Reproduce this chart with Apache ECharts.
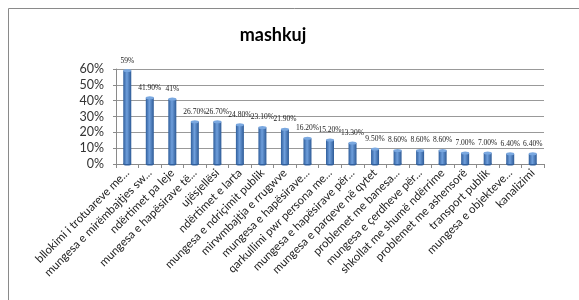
<!DOCTYPE html>
<html lang="sq">
<head>
    <meta charset="UTF-8">
    <title>mashkuj</title>
    <script src="https://cdn.jsdelivr.net/npm/echarts@6/dist/echarts.min.js"></script>
    <style>
        html, body { margin: 0; padding: 0; background: #fff; }
        #main { width: 579px; height: 300px; }
    </style>
</head>
<body>
<div id="main"></div>
<script>
    // te dhenat
    var categories = [
        'bllokimi i trotuareve me...',
        'mungesa e mirëmbajtjes sw...',
        'ndërtimet pa leje',
        'mungesa e hapësirave të...',
        'ujësjellësi',
        'ndërtimet e larta',
        'mungesa e ndriçimit publik',
        'mirwmbajtja e rrugwve',
        'mungesa e hapësirave...',
        'qarkullimi pwr persona me...',
        'mungesa e hapësirave për...',
        'mungesa e parqeve në qytet',
        'problemet me banesa...',
        'mungesa e çerdheve për...',
        'shkollat me shumë ndërrime',
        'problemet me ashensorë',
        'transport publik',
        'mungesa e objekteve...',
        'kanalizimi'
    ];
    var values = [59, 41.9, 41, 26.7, 26.7, 24.8, 23.1, 21.9, 16.2, 15.2, 13.3, 9.5, 8.6, 8.6, 8.6, 7.0, 7.0, 6.4, 6.4];
    var valueLabels = ['59%', '41.90%', '41%', '26.70%', '26.70%', '24.80%', '23.10%', '21.90%', '16.20%', '15.20%',
        '13.30%', '9.50%', '8.60%', '8.60%', '8.60%', '7.00%', '7.00%', '6.40%', '6.40%'];
    var yTicks = [0, 10, 20, 30, 40, 50, 60];

    var barColor = {
        type: 'linear', x: 0, y: 0, x2: 1, y2: 0,
        colorStops: [
            {offset: 0, color: '#2f5e9c'},
            {offset: 0.45, color: '#6f9fdc'},
            {offset: 1, color: '#2d5a96'}
        ]
    };

    var myChart = echarts.init(document.getElementById('main'));
    var option = {
        animation: false,
        title: {
            text: 'mashkuj',
            left: 268,
            top: 21,
            textAlign: 'center',
            textStyle: {fontFamily: 'Lato', fontWeight: 'bold', fontSize: 18, color: '#000'}
        },
        graphic: [{
            type: 'rect',
            shape: {x: 8.5, y: 8.5, width: 640, height: 400},
            style: {fill: 'none', stroke: '#8a8a8a', lineWidth: 1}
        }],
        grid: {left: 116, right: 35, top: 69, bottom: 136},
        xAxis: {
            type: 'category',
            data: categories,
            axisLine: {lineStyle: {color: '#8a8a8a'}},
            axisTick: {show: true, length: 4, lineStyle: {color: '#8a8a8a'}},
            axisLabel: {
                rotate: 45,
                interval: 0,
                margin: 7,
                fontFamily: 'Lato',
                fontSize: 11.5,
                color: '#222'
            }
        },
        yAxis: {
            type: 'value',
            min: yTicks[0],
            max: yTicks[yTicks.length - 1],
            interval: 10,
            axisLine: {show: true, lineStyle: {color: '#8a8a8a'}},
            axisTick: {show: true, length: 3, lineStyle: {color: '#8a8a8a'}},
            splitLine: {lineStyle: {color: '#999', width: 1}},
            axisLabel: {
                formatter: '{value}%',
                fontFamily: 'Lato',
                fontSize: 12.5,
                color: '#333',
                margin: 12
            }
        },
        series: [
            {
                type: 'bar',
                data: values,
                barWidth: 8,
                itemStyle: {color: barColor},
                label: {
                    show: true,
                    position: 'top',
                    distance: 6,
                    fontFamily: 'Liberation Serif',
                    fontSize: 7.5,
                    color: '#222',
                    formatter: function (p) { return valueLabels[p.dataIndex]; }
                },
                z: 2
            },
            {
                type: 'pictorialBar',
                data: values,
                symbol: 'circle',
                symbolSize: [8, 3],
                symbolPosition: 'end',
                symbolOffset: [0, '-50%'],
                itemStyle: {color: '#7aa8e0'},
                z: 3,
                silent: true
            },
            {
                type: 'pictorialBar',
                data: values,
                symbol: 'circle',
                symbolSize: [8, 3],
                symbolPosition: 'start',
                symbolOffset: [0, '50%'],
                itemStyle: {color: '#2f5e9c'},
                z: 1,
                silent: true
            }
        ]
    };
    myChart.setOption(option);
</script>
</body>
</html>
